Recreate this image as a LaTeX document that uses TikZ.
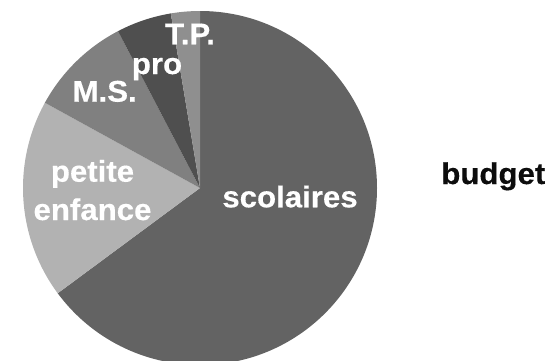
\documentclass[tikz,border=0pt]{standalone}
\usepackage{fontspec}
\setmainfont{Liberation Sans}
\newfontfamily\labfont{Liberation Sans Bold}[FakeStretch=1.04,FakeBold=0.4]
\begin{document}
\begin{tikzpicture}[x=1pt,y=1pt,
  lab/.style={font=\labfont\fontsize{30}{36}\selectfont, text=white, inner sep=0pt, anchor=base},
  ttl/.style={font=\labfont\fontsize{30}{36}\selectfont, text=black!95, inner sep=0pt, anchor=base}]
\useasboundingbox (0,0) rectangle (554,360);
\clip (0,0) rectangle (554,360);
\fill[white] (0,0) rectangle (554,360);
\def\R{177}
\coordinate (O) at (200,172);
\definecolor{cSco}{gray}{0.39}
\definecolor{cPet}{gray}{0.70}
\definecolor{cMS}{gray}{0.50}
\definecolor{cPro}{gray}{0.31}
\definecolor{cTP}{gray}{0.56}
\fill[cSco] (O) -- ++(90:\R) arc[start angle=90, end angle=-143.5, radius=\R] -- cycle;
\fill[cPet] (O) -- ++(216.5:\R) arc[start angle=216.5, end angle=151.2, radius=\R] -- cycle;
\fill[cMS] (O) -- ++(151.2:\R) arc[start angle=151.2, end angle=117.6, radius=\R] -- cycle;
\fill[cPro] (O) -- ++(117.6:\R) arc[start angle=117.6, end angle=99.5, radius=\R] -- cycle;
\fill[cTP] (O) -- ++(99.5:\R) arc[start angle=99.5, end angle=90, radius=\R] -- cycle;
\node[lab] (sco) at (290,152.7) {scolaires};
\node[lab] (pe1) at (92.5,178.3) {petite};
\node[lab] (pe2) at (92.5,140) {enfance};
\node[lab] (ms) at (104.7,258.3) {M.S.};
\node[lab] (pro) at (157,286) {pro};
\node[lab] (tp) at (190,315.7) {T.P.};
\node[ttl] (bud) at (493.3,176) {budget};
\end{tikzpicture}
\end{document}
